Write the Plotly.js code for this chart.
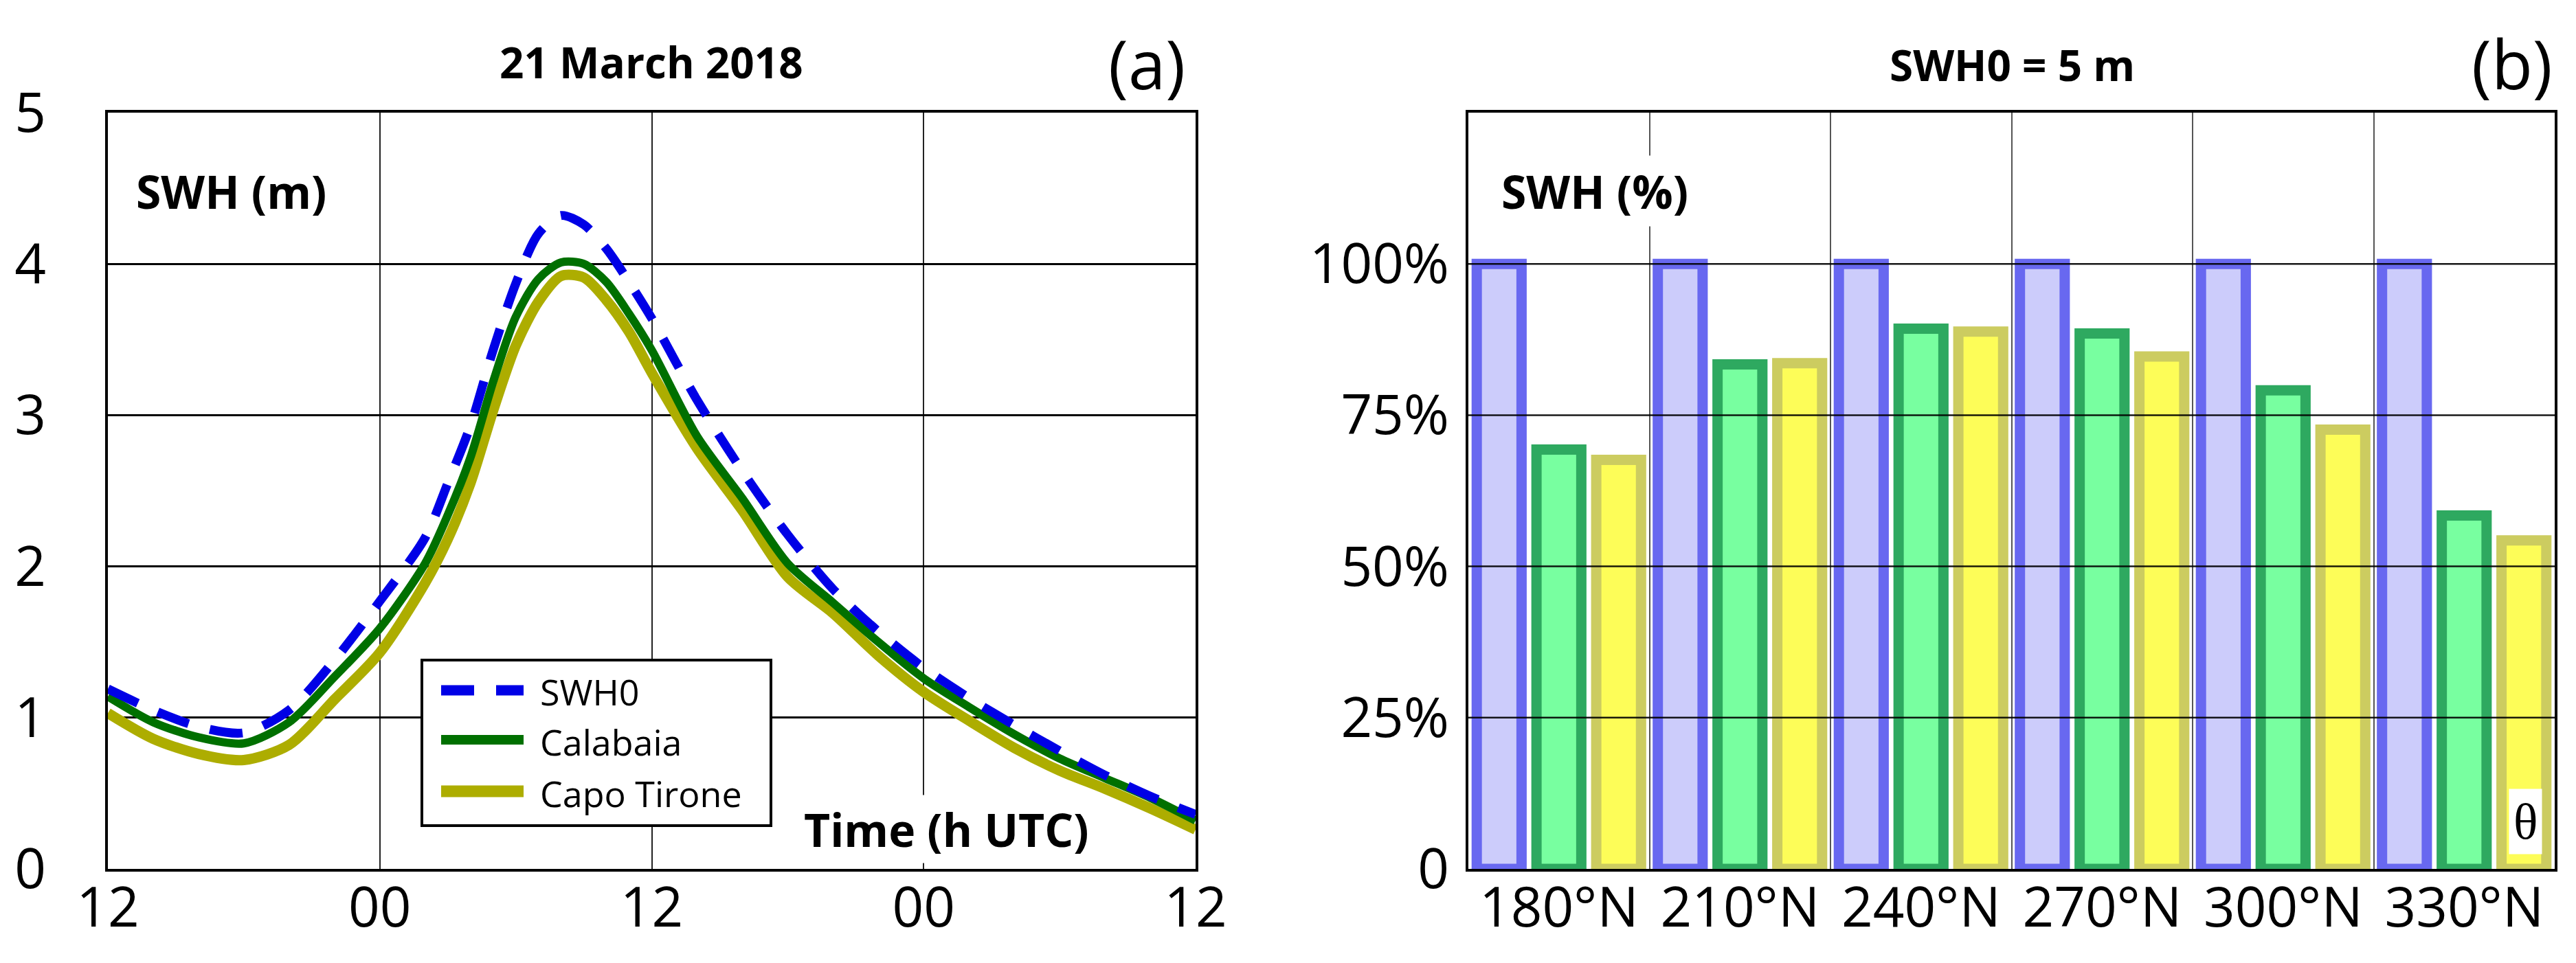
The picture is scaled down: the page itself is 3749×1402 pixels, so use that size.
<!DOCTYPE html>
<html>
<head>
<meta charset="utf-8">
<script src="https://cdn.plot.ly/plotly-3.0.1.min.js"></script>
<style>
  html, body { margin: 0; padding: 0; background: #fff; }
  #chart { width: 3749px; height: 1402px; }
</style>
</head>
<body>
<div id="chart"></div>
<script>
// panel (a): SWH time series, hours from 12 UTC 20 March
const hours = [0, 2, 4, 6, 8, 10, 12, 14, 15, 16, 17, 18, 19, 20, 21, 22, 23, 24,
               26, 28, 30, 32, 34, 36, 38, 40, 42, 44, 46, 48];
const swh0 = [1.19, 1.05, 0.94, 0.90, 1.05, 1.38, 1.77, 2.19, 2.55, 2.93, 3.43, 3.87, 4.20, 4.32, 4.26, 4.10, 3.88, 3.64,
              3.10, 2.63, 2.21, 1.85, 1.57, 1.33, 1.13, 0.95, 0.78, 0.62, 0.48, 0.36];
const calabaia = [1.14, 0.97, 0.87, 0.83, 0.97, 1.27, 1.59, 2.02, 2.34, 2.72, 3.22, 3.65, 3.90, 4.01, 4.00, 3.88, 3.67, 3.43,
                  2.86, 2.45, 2.02, 1.76, 1.50, 1.26, 1.07, 0.89, 0.73, 0.60, 0.47, 0.32];
const capoTirone = [1.03, 0.86, 0.76, 0.72, 0.82, 1.12, 1.43, 1.89, 2.18, 2.55, 3.03, 3.46, 3.75, 3.92, 3.91, 3.76, 3.55, 3.28,
                    2.78, 2.37, 1.93, 1.69, 1.41, 1.17, 0.98, 0.80, 0.65, 0.53, 0.40, 0.26];
const timeTicks = [0, 12, 24, 36, 48];
const timeLabels = ['12', '00', '12', '00', '12'];
const seriesNames = ['SWH0', 'Calabaia', 'Capo Tirone'];

// panel (b): SWH as % of SWH0 per wave direction
const directions = ['180°N', '210°N', '240°N', '270°N', '300°N', '330°N'];
const pctSwh0 = [100, 100, 100, 100, 100, 100];
const pctCalabaia = [69.3, 83.4, 89.3, 88.5, 79.1, 58.4];
const pctCapoTirone = [67.6, 83.6, 88.8, 84.7, 72.6, 54.3];
const pctTicks = [0, 25, 50, 75, 100];
const pctLabels = ['0', '25%', '50%', '75%', '100%'];

const W = 3749, H = 1402;
const px = X => X / W;
const py = Y => 1 - Y / H;

const FONT = '"Open Sans", "Noto Sans", sans-serif';
const lineColors = ['#0000e6', '#007000', '#adad00'];
const lineWidths = [13, 12, 15];
const lineDash = ['48px,32px', 'solid', 'solid'];

const barFill = ['#ccccfb', '#78ffa0', '#fdfd58'];
const barEdge = ['#6868f0', '#2ea960', '#cccc60'];

function main() {
    const lineData = [capoTirone, calabaia, swh0];
    const order = [2, 1, 0];
    const traces = order.map((k, i) => ({
        x: hours, y: lineData[i], type: 'scatter', mode: 'lines',
        name: seriesNames[k], xaxis: 'x', yaxis: 'y', showlegend: false,
        line: {color: lineColors[k], width: lineWidths[k], dash: lineDash[k], shape: 'spline', smoothing: 0.8}
    }));

    const barData = [pctSwh0, pctCalabaia, pctCapoTirone];
    barData.forEach((vals, k) => {
        traces.push({
            x: directions, y: vals, type: 'bar', name: seriesNames[k],
            xaxis: 'x2', yaxis: 'y2', showlegend: false,
            marker: {color: barFill[k], line: {color: barEdge[k], width: 15}}
        });
    });

    const tickFont = {family: FONT, size: 80, color: '#000'};
    const yDomain = [py(1265), py(164)];

    const shapes = [];
    // horizontal grid of panel (b) sits on top of the bars
    pctTicks.slice(1).forEach(v => shapes.push({
        type: 'line', xref: 'x2 domain', yref: 'y2', x0: 0, x1: 1, y0: v, y1: v,
        line: {color: 'rgba(0,0,0,0.9)', width: 2.5}, layer: 'above'
    }));

    // legend of panel (a)
    shapes.push({
        type: 'rect', xref: 'paper', yref: 'paper',
        x0: px(614), x1: px(1122), y0: py(1202), y1: py(961),
        fillcolor: '#fff', line: {color: '#000', width: 4}, layer: 'above'
    });
    const rowY = [1005, 1077, 1152];
    seriesNames.forEach((name, k) => shapes.push({
        type: 'line', xref: 'paper', yref: 'paper',
        x0: px(642), x1: px(762), y0: py(rowY[k]), y1: py(rowY[k]),
        line: {color: lineColors[k], width: lineWidths[k] + 2, dash: lineDash[k]}, layer: 'above'
    }));

    const bold = size => ({family: FONT, size: size, color: '#000', weight: 'bold'});
    const annotations = [
        {text: '21 March 2018', x: px(948), y: py(90), font: bold(62)},
        {text: 'SWH0 = 5 m', x: px(2928), y: py(94), font: bold(62)},
        {text: '(a)', x: px(1669), y: py(92), font: {family: FONT, size: 98, color: '#000'}},
        {text: '(b)', x: px(3656), y: py(92), font: {family: FONT, size: 98, color: '#000'}},
        {text: 'SWH (m)', x: px(196), y: py(278), xanchor: 'left', font: bold(66)},
        {text: 'SWH (%)', x: px(2178), y: py(278), xanchor: 'left', font: bold(66),
         bgcolor: '#fff', borderpad: 6},
        {text: 'Time (h UTC)', x: px(1377), y: py(1207), font: bold(66), bgcolor: '#fff', borderpad: 4},
        {text: 'θ', x: px(3675), y: py(1196), bgcolor: '#fff', borderpad: 6,
         font: {family: '"Liberation Serif", "DejaVu Serif", serif', size: 74, color: '#000'}}
    ];
    seriesNames.forEach((name, k) => annotations.push({
        text: name, x: px(784), y: py(rowY[k] + 2), xanchor: 'left',
        font: {family: FONT, size: 52, color: '#000'}
    }));
    annotations.forEach(a => {
        a.xref = 'paper'; a.yref = 'paper'; a.showarrow = false;
        if (!a.xanchor) a.xanchor = 'center';
        a.yanchor = 'middle';
    });

    const layout = {
        width: W, height: H, autosize: false,
        margin: {l: 0, r: 0, t: 0, b: 0},
        paper_bgcolor: '#fff', plot_bgcolor: '#fff',
        showlegend: false,
        barmode: 'group', bargap: 0.01, bargroupgap: 0.25,
        xaxis: {
            domain: [px(157), px(1740)], range: [0, 48],
            tickvals: timeTicks, ticktext: timeLabels, tickfont: tickFont,
            showgrid: true, gridcolor: '#222', gridwidth: 2, zeroline: false,
            showline: true, mirror: true, linecolor: '#000', linewidth: 4,
            ticks: '', ticklabelstandoff: -16, fixedrange: true
        },
        yaxis: {
            domain: yDomain, range: [0, 5], dtick: 1, tickfont: tickFont,
            showgrid: true, gridcolor: '#000', gridwidth: 3, zeroline: false,
            showline: true, mirror: true, linecolor: '#000', linewidth: 4,
            ticks: '', ticklabelstandoff: 70, fixedrange: true
        },
        xaxis2: {
            domain: [px(2137), px(3718)], type: 'category', tickson: 'boundaries',
            tickfont: tickFont, showgrid: true, gridcolor: '#555', gridwidth: 2,
            showline: true, mirror: true, linecolor: '#000', linewidth: 4,
            ticks: '', ticklabelstandoff: -16, fixedrange: true
        },
        yaxis2: {
            domain: yDomain, range: [0, 125], anchor: 'x2',
            tickvals: pctTicks, ticktext: pctLabels, tickfont: tickFont,
            showgrid: false, zeroline: false,
            showline: true, mirror: true, linecolor: '#000', linewidth: 4,
            ticks: '', ticklabelstandoff: 8, fixedrange: true
        },
        shapes: shapes,
        annotations: annotations
    };

    Plotly.newPlot('chart', traces, layout, {displayModeBar: false, staticPlot: true});
}
main();
</script>
</body>
</html>
